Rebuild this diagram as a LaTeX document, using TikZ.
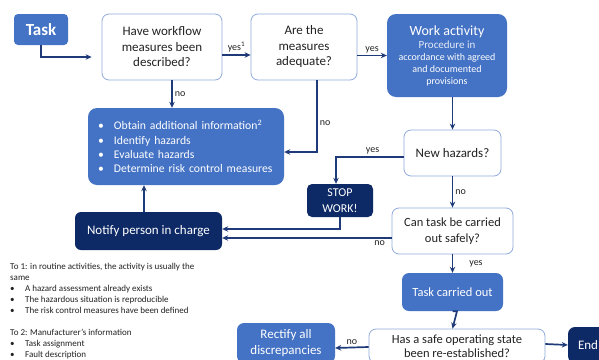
\documentclass[tikz,border=0pt]{standalone}
\usepackage{fontspec}
\setmainfont{Carlito}
\usetikzlibrary{arrows.meta,calc}
\definecolor{mblue}{HTML}{4472C4}
\definecolor{navy}{HTML}{0E2A66}
\definecolor{lborder}{HTML}{8FAADC}
\definecolor{arrowc}{HTML}{1F3A78}
\definecolor{txt}{HTML}{222222}
\definecolor{subtxt}{HTML}{E4EBF7}
\newcommand\blt{\makebox[15pt][l]{•}}
\newcommand\bbl{\makebox[16pt][l]{•}}
\begin{document}
\begin{tikzpicture}[x=1pt,y=-1pt,
  qbox/.style={draw=lborder, line width=0.8pt, fill=white, rounded corners=7pt, text=txt, align=center, inner sep=0pt, font=\fontsize{13}{15.5}\selectfont},
  bbox/.style={fill=mblue, rounded corners=7pt, text=white, align=center, inner sep=0pt},
  nbox/.style={fill=navy, rounded corners=5pt, text=white, align=center, inner sep=0pt},
  arr/.style={draw=arrowc, line width=1.7pt, -{Stealth[length=6pt,width=5.5pt]}},
  lbl/.style={font=\fontsize{10}{12}\selectfont, text=txt, inner sep=2pt},
  note/.style={font=\fontsize{9}{11}\selectfont, text=txt, align=left, inner sep=0pt}
]
\clip (0,0) rectangle (599,359);
\fill[white] (0,0) rectangle (599,359);

% nodes
\node[bbox, rounded corners=4pt, minimum width=54pt, minimum height=31pt, font=\fontsize{17}{20}\selectfont\bfseries] (task) at (41,29.5) {Task};
\node[qbox, minimum width=120pt, minimum height=66pt] (q1) at (162,47) {Have workflow\\measures been\\described?};
\node[qbox, minimum width=106pt, minimum height=66pt] (q2) at (304,47) {Are the\\measures\\adequate?};
\node[bbox, rounded corners=9pt, minimum width=120pt, minimum height=83pt] (work) at (447,55.5)
  {\fontsize{14}{14}\selectfont Work activity\\[1pt]
   \color{subtxt}\fontsize{11}{12.7}\selectfont Procedure in\\accordance with agreed\\and documented\\provisions};
\node[bbox, rounded corners=9pt, minimum height=77pt, text width=176pt, inner xsep=10pt, align=left,
  font=\fontsize{11.7}{14.2}\selectfont] (bul) at (186,146.5)
  {\bbl Obtain additional information\textsuperscript{2}\\\bbl Identify hazards\\\bbl Evaluate hazards\\\bbl \mbox{Determine risk control measures}};
\node[qbox, minimum width=97pt, minimum height=46pt] (newh) at (452.5,153) {New hazards?};
\node[nbox, minimum width=66pt, minimum height=33pt, font=\fontsize{12}{15.5}\selectfont] (stop) at (340,200.5) {STOP\\WORK!};
\node[nbox, rounded corners=6pt, minimum width=147pt, minimum height=38pt, font=\fontsize{13}{15}\selectfont] (notify) at (148.5,231) {Notify person in charge};
\node[qbox, minimum width=121pt, minimum height=46pt, font=\fontsize{12.5}{16}\selectfont] (can) at (452.5,231) {Can task be carried\\out safely?};
\node[bbox, minimum width=101pt, minimum height=38pt, font=\fontsize{12.5}{15}\selectfont] (tco) at (452.5,292) {Task carried out};
\node[qbox, minimum width=176pt, minimum height=34pt, font=\fontsize{12.5}{14}\selectfont] (has) at (457,346) {Has a safe operating state\\been re-established?};
\node[bbox, minimum width=98pt, minimum height=40pt, font=\fontsize{13}{16}\selectfont] (rect) at (286,343) {Rectify all\\discrepancies};
\node[nbox, rounded corners=7pt, minimum width=40pt, minimum height=36pt, font=\fontsize{13}{15}\selectfont] (end) at (588,345) {End};

% footnotes
\node[note, anchor=north west] (fn) at (10,263)
  {To 1: in routine activities, the activity is usually the\\same\\
   \blt A hazard assessment already exists\\
   \blt The hazardous situation is reproducible\\
   \blt The risk control measures have been defined\\[11pt]
   To 2: Manufacturer's information\\
   \blt Task assignment\\
   \blt Fault description};

% connectors
\draw[arr] (task.south) |- ([xshift=-10pt,yshift=-10pt]q1.west);
\draw[arr] ([yshift=-8pt]q1.east) -- node[lbl, above] {yes\textsuperscript{1}} ([yshift=-8pt]q2.west);
\draw[arr] (work.west -| q2.east) -- node[lbl, above] {yes} (work.west);
\draw[arr] (newh.north |- work.south) -- (newh.north);
\draw[arr] ([xshift=10pt]q1.south) -- node[lbl, right] {no} ([xshift=10pt]q1.south |- bul.north);
\draw[arr] ([xshift=13pt]q2.south) |- node[lbl, right, pos=0.3] {no} ([yshift=-5.5pt]bul.east);
\draw[arr] ([yshift=-4pt]newh.west) -| node[lbl, above, pos=0.23] {yes} ([xshift=-4pt]stop.north);
\draw[arr] (newh.south) -- node[lbl, right] {no} (can.north);
\draw[arr] (stop.south) |- ([yshift=2pt]notify.east);
\draw[arr] ([yshift=-7pt]can.west) -- node[lbl, below, pos=0.07] {no} ([yshift=-7pt]notify.east);
\draw[arr] ([xshift=-4.5pt]notify.north) -- ([xshift=-4.5pt]notify.north |- bul.south);
\draw[arr] (can.south) -- node[lbl, right, xshift=14pt] {yes} (tco.north);
\draw[arr] (tco.south) -- (has.north |- tco.south) -- ([xshift=-4.5pt]has.north);
\draw[arr] ([yshift=-1pt]has.west) -- node[lbl, above] {no} ([yshift=-5pt]rect.east);
\draw[arr] ([yshift=2pt]has.east) -- (end.west);
\end{tikzpicture}
\end{document}
